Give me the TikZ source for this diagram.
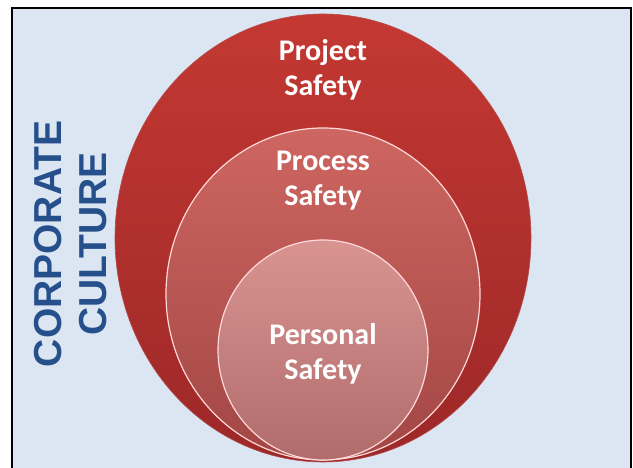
\documentclass[tikz,border=0pt]{standalone}
\usepackage{fontspec}
\setmainfont{Carlito}
\newfontfamily\capsfont{Liberation Sans}
\usepackage{tikz}
\usetikzlibrary{calc}

\definecolor{panel}{HTML}{DCE6F2}
\definecolor{culture}{HTML}{25508C}
\definecolor{outertop}{HTML}{C43832}
\definecolor{outerbot}{HTML}{9C2828}
\definecolor{midtop}{HTML}{CE6661}
\definecolor{midbot}{HTML}{A24644}
\definecolor{innertop}{HTML}{D99492}
\definecolor{innerbot}{HTML}{B06C6B}

\tikzset{
  ringlabel/.style={text=white, align=center, font=\fontsize{30}{35}\selectfont\bfseries},
  rim/.style={draw=white!85!red, line width=1.2pt}
}

\begin{document}
\begin{tikzpicture}[x=1pt, y=1pt]
        \useasboundingbox (0,0) rectangle (633,468);
        \coordinate(Outer) at (323,230);
        \coordinate(Middle) at (323,174);
        \coordinate(Inner) at (323,118);
        % panel behind the rings
        \draw [fill=panel, line width=2.5pt] (12,-10) -- (12,460) -- (631,460) -- (631,-10);
        % rings, largest first
        \shade [top color=outertop, bottom color=outerbot, draw=gray!60!red, line width=0.6pt]
              (Outer) ellipse [x radius=208, y radius=224];
        \shade [top color=midtop, bottom color=midbot, rim]
              (Middle) ellipse [x radius=157, y radius=166];
        \shade [top color=innertop, bottom color=innerbot, rim]
              (Inner) ellipse [x radius=105, y radius=110];
        \node[ringlabel] (project) at (323,398) {Project\\Safety};
        \node[ringlabel] (process) at (323,287) {Process\\Safety};
        \node[ringlabel] (personal) at (323,114) {Personal\\Safety};
        \node[rotate=90, align=center, text=culture, font=\capsfont\fontsize{39}{45}\selectfont\bfseries]
              (culture) at (71,224) {CORPORATE\\CULTURE};
      \end{tikzpicture}
\end{document}
